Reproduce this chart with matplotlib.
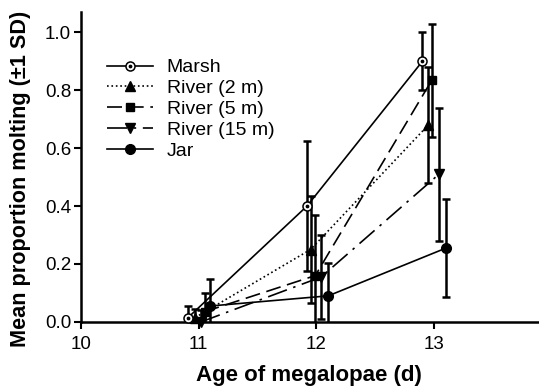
import numpy as np
import matplotlib.pyplot as plt
from matplotlib.legend_handler import HandlerTuple

plt.rcParams['font.family'] = ['Liberation Sans', 'DejaVu Sans']

# -----------------------
# data
# -----------------------
marsh_x = [10.91, 11.92, 12.90]
marsh_y = [0.015, 0.40, 0.90]
marsh_sd = [0.04, 0.225, 0.10]

river2_x = [10.97, 11.95, 12.95]
river2_y = [0.015, 0.25, 0.68]
river2_sd = [0.03, 0.185, 0.20]

river5_x = [11.05, 11.99, 12.98]
river5_y = [0.035, 0.16, 0.835]
river5_sd = [0.065, 0.21, 0.195]

river15_x = [11.02, 12.04, 13.04]
river15_y = [0.0, 0.155, 0.51]
river15_sd = [0.04, 0.145, 0.23]

jar_x = [11.10, 12.10, 13.10]
jar_y = [0.055, 0.09, 0.255]
jar_sd = [0.093, 0.113, 0.17]

x_ticks = [10, 11, 12, 13]
y_ticks = [0.0, 0.2, 0.4, 0.6, 0.8, 1.0]

# -----------------------
# figure
# -----------------------
fig = plt.figure(figsize=(5.39, 3.86), dpi=100)
ax = fig.add_axes([0.150, 0.166, 0.848, 0.803])

series = [
    (marsh_x, marsh_y, marsh_sd),
    (river2_x, river2_y, river2_sd),
    (river5_x, river5_y, river5_sd),
    (river15_x, river15_y, river15_sd),
    (jar_x, jar_y, jar_sd),
]
# error bars are cut at the x axis, as in the original
for xs, ys, sds in series:
    ax.errorbar(xs, ys, yerr=sds, fmt='none', ecolor='black', elinewidth=1.8,
                capsize=2.8, capthick=1.8, zorder=2)

l_marsh, = ax.plot(marsh_x, marsh_y, '-', color='black', lw=1.2, marker='o',
                   ms=6.5, mfc='white', mec='black', mew=1.1, clip_on=False, zorder=4)
l_dot, = ax.plot(marsh_x, marsh_y, ls='none', marker='o', ms=1.7, color='black',
                 clip_on=False, zorder=5)
l_r2, = ax.plot(river2_x, river2_y, ls=':', color='black', lw=1.2, marker='^',
                ms=6.5, clip_on=False, zorder=3)
l_r5, = ax.plot(river5_x, river5_y, ls='--', dashes=(9, 4), color='black', lw=1.2,
                marker='s', ms=6, clip_on=False, zorder=3)
l_r15, = ax.plot(river15_x, river15_y, ls='-.', dashes=(12, 4, 1.5, 4), color='black',
                 lw=1.2, marker='v', ms=6.5, clip_on=False, zorder=3)
l_jar, = ax.plot(jar_x, jar_y, '-', color='black', lw=1.2, marker='o', ms=7,
                 clip_on=False, zorder=3)

ax.legend([(l_marsh, l_dot), l_r2, l_r5, l_r15, l_jar],
          ['Marsh', 'River (2 m)', 'River (5 m)', 'River (15 m)', 'Jar'],
          handler_map={tuple: HandlerTuple(ndivide=1)},
          loc='upper left', bbox_to_anchor=(0.057, 0.849), frameon=False,
          fontsize=14, handlelength=2.36, handletextpad=0.72, labelspacing=0.17,
          borderpad=0, borderaxespad=0)

ax.set_xlim(10, 13.88)
ax.set_ylim(0, 1.07)
ax.set_xticks(x_ticks)
ax.set_yticks(y_ticks)
ax.set_yticklabels([f'{v:.1f}' for v in y_ticks])
ax.tick_params(labelsize=13.5, width=1.5, length=5, direction='out', pad=2)
ax.tick_params(axis='x', pad=5)
for side in ['top', 'right']:
    ax.spines[side].set_visible(False)
for side in ['left', 'bottom']:
    ax.spines[side].set_linewidth(1.8)

ax.set_xlabel('Age of megalopae (d)', fontsize=16, fontweight='bold', labelpad=9)
ax.set_ylabel('Mean proportion molting (\u00b11 SD)', fontsize=15.6, fontweight='bold')
ax.yaxis.set_label_coords(-0.108, 0.46)

fig.savefig('out.png', dpi=100)
